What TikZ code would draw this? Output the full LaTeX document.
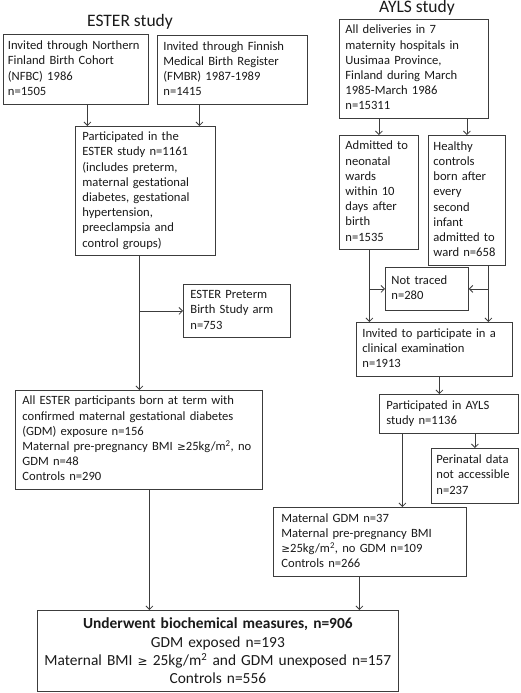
\documentclass[tikz,border=0pt]{standalone}
\usepackage{fontspec}
\setmainfont{Carlito}
\newfontfamily\symfont{DejaVu Sans}
\usetikzlibrary{arrows.meta,calc}
\definecolor{linec}{HTML}{3C3C3C}
\definecolor{txtc}{HTML}{1A1A1A}
\newcommand\tb[1]{\begin{tabular}{@{}l@{}}#1\end{tabular}}
\newcommand\gesym[1]{{\symfont\fontsize{#1}{15}\selectfont ≥}}
\begin{document}
\begin{tikzpicture}[x=1pt,y=-1pt,
  box/.style={draw=linec, line width=0.8pt, inner xsep=5pt, inner ysep=2pt,
    align=left, anchor=north west, text=txtc, font=\fontsize{12.6}{15.2}\selectfont},
  ttl/.style={anchor=base, text=txtc, font=\fontsize{17.5}{20}\selectfont},
  ln/.style={draw=linec, line width=0.8pt},
  arr/.style={ln, -{Straight Barb[length=3.5pt,width=7pt]}}]
\fill[white] (0,0) rectangle (520,693);
\useasboundingbox (0,0) rectangle (520,693);

\node[ttl] (t1) at (130,26.5) {ESTER study};
\node[ttl] (t2) at (417,13) {AYLS study};

\node[box, minimum width=145pt, minimum height=70pt, text width=136pt, inner xsep=4.5pt] (nfbc) at (3,34)
  {\tb{Invited through Northern\\Finland Birth Cohort\\(NFBC) 1986\\n=1505}};
\node[box, minimum width=150pt, minimum height=69pt, text width=138pt, inner xsep=6pt] (fmbr) at (157,35)
  {\tb{Invited through Finnish\\Medical Birth Register\\(FMBR) 1987-1989\\n=1415}};
\node[box, minimum width=140pt, minimum height=129pt, text width=126pt, inner xsep=7pt] (part) at (75,126)
  {\tb{Participated in the\\ESTER study n=1161\\(includes preterm,\\maternal gestational\\diabetes, gestational\\hypertension,\\preeclampsia and\\control groups)}};
\node[box, minimum width=107pt, minimum height=53pt, text width=93pt, inner xsep=7pt] (pret) at (183,284)
  {\tb{ESTER Preterm\\Birth Study arm\\n=753}};
\node[box, minimum width=247pt, minimum height=99pt, text width=233pt, inner xsep=7pt] (gdm) at (15,390)
  {\tb{All ESTER participants born at term with\\confirmed maternal gestational diabetes\\(GDM) exposure n=156\\Maternal pre-pregnancy BMI \gesym{10.5}25kg/m\textsuperscript{2}, no\\GDM n=48\\Controls n=290}};
\node[box, minimum width=361pt, minimum height=81pt, text width=351pt, align=center,
  font=\fontsize{15.4}{18.3}\selectfont] (fin) at (37,610)
  {\textbf{Underwent biochemical measures, n=906}\\GDM exposed n=193\\Maternal BMI \gesym{12} 25kg/m\textsuperscript{2} and GDM unexposed n=157\\Controls n=556};

\node[box, minimum width=149pt, minimum height=99pt, text width=137pt, inner xsep=6pt] (all) at (339,19)
  {\tb{All deliveries in 7\\maternity hospitals in\\Uusimaa Province,\\Finland during March\\1985-March 1986\\n=15311}};
\node[box, minimum width=79pt, minimum height=114pt, text width=67pt, inner xsep=6pt] (adm) at (339,135)
  {\tb{Admitted to\\neonatal\\wards\\within 10\\days after\\birth\\n=1535}};
\node[box, minimum width=77pt, minimum height=130pt, text width=67pt] (hea) at (428,135)
  {\tb{Healthy\\controls\\born after\\every\\second\\infant\\admitted to\\ward n=658}};
\node[box, minimum width=83pt, minimum height=43pt, text width=71pt, inner xsep=6pt] (nt) at (385,267)
  {\tb{Not traced\\n=280}};
\node[box, minimum width=156pt, minimum height=54pt, text width=144pt, inner xsep=6pt] (inv) at (356,322)
  {\tb{Invited to participate in a\\clinical examination\\n=1913}};
\node[box, minimum width=139pt, minimum height=39pt, text width=125pt, inner xsep=7pt] (payl) at (379,394)
  {\tb{Participated in AYLS\\study n=1136}};
\node[box, minimum width=87pt, minimum height=55pt, text width=77pt] (peri) at (431,448)
  {\tb{Perinatal data\\not accessible\\n=237}};
\node[box, minimum width=193pt, minimum height=69pt, text width=177pt, inner xsep=8pt] (mgdm) at (273,507)
  {\tb{Maternal GDM n=37\\Maternal pre-pregnancy BMI\\\gesym{10.5}25kg/m\textsuperscript{2}, no GDM n=109\\Controls n=266}};

% ESTER connectors
\draw[arr] ([xshift=11.5pt]nfbc.south) -- ([xshift=11.5pt]nfbc.south |- part.north);
\draw[arr] ([xshift=-33pt]fmbr.south) -- ([xshift=-33pt]fmbr.south |- part.north);
\coordinate (pl) at ([xshift=-6pt]part.south);
\draw[arr] (pl) -- (pl |- gdm.north);
\draw[arr] (pl |- pret.west) -- (pret.west);
\coordinate (gl) at ([xshift=10.5pt]gdm.south);
\draw[arr] (gl) -- (gl |- fin.north);

% AYLS connectors
\draw[arr] (all.south -| adm.north) -- (adm.north);
\draw[arr] (all.south -| hea.north) -- (hea.north);
\coordinate (al) at ([xshift=-9.5pt]adm.south);
\draw[arr] (al) -- (al |- inv.north);
\draw[arr] (al |- nt.west) -- (nt.west);
\coordinate (hl) at ([xshift=21.5pt]hea.south);
\draw[arr] (hl) -- (hl |- inv.north);
\draw[arr] (hl |- nt.east) -- (nt.east);
\coordinate (il) at ([xshift=5pt]inv.south);
\draw[arr] (il) -- (il |- payl.north);
\coordinate (yl) at ([xshift=-46.5pt]payl.south);
\draw[arr] (yl) -- (yl |- mgdm.north);
\draw[arr] (peri.north |- payl.south) -- (peri.north);
\coordinate (ml) at ([xshift=-10.5pt]mgdm.south);
\draw[arr] (ml) -- (ml |- fin.north);
\end{tikzpicture}
\end{document}
